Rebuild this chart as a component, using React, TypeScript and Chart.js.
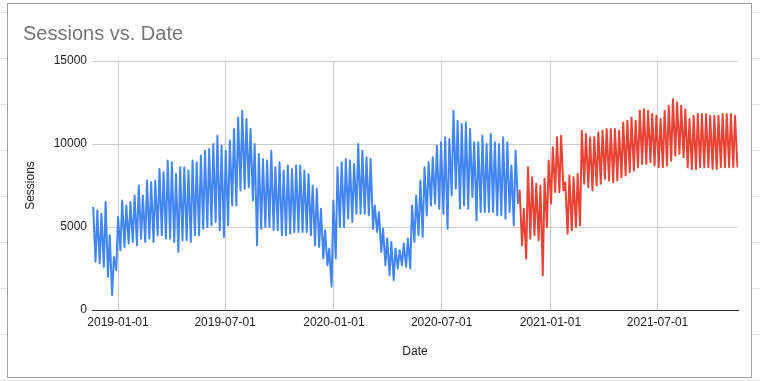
import React, { useEffect, useRef } from "react";
import { Chart, registerables } from "chart.js";

Chart.register(...registerables);

// ---------- data ----------
const TITLE = "Sessions vs. Date";
const X_TITLE = "Date";
const Y_TITLE = "Sessions";

// Week 0 starts on this date; each week is stored as its weekday high and its weekend low.
const FIRST_WEEK = "2018-11-19";
const AXIS_START = "2018-11-18";
const AXIS_END = "2021-11-14";

const X_TICK_DATES = ["2019-01-01", "2019-07-01", "2020-01-01", "2020-07-01", "2021-01-01", "2021-07-01"];
const Y_TICKS = [0, 5000, 10000, 15000];

// Blue series: weeks 0..102
const BLUE_HIGHS = [
  6200, 6000, 5800, 6500, 4500, 3200, 5600, 6600, 6300, 6500,
  6900, 7500, 6900, 7800, 7700, 7800, 8500, 8300, 9000, 8900,
  8200, 8600, 8600, 8400, 9000, 8900, 9300, 9600, 9700, 10000,
  10500, 9900, 9600, 10200, 10900, 11600, 12000, 11500, 10900, 10000,
  9400, 9100, 9000, 9600, 8600, 8900, 8400, 8700, 8500, 8700,
  8700, 8400, 8200, 7500, 7300, 6100, 4800, 3700, 6600, 8600,
  8900, 9100, 9000, 8800, 10000, 9600, 9200, 9100, 6300, 5900,
  4900, 4300, 4100, 3700, 3600, 4000, 4300, 6300, 6900, 7800,
  8600, 8900, 9200, 9900, 10100, 10400, 10300, 12000, 11400, 11200,
  11300, 10900, 10100, 10100, 10500, 10000, 10600, 10100, 10000, 10400,
  10100, 8700, 9600,
];
const BLUE_LOWS = [
  2900, 2800, 2600, 2000, 900, 2400, 3600, 3800, 4000, 4100,
  3900, 4300, 4100, 4300, 4100, 4500, 4500, 4300, 4300, 4100,
  3500, 4200, 4200, 4100, 4500, 4500, 4900, 5000, 5100, 5300,
  4800, 4400, 5100, 6300, 6300, 7200, 7300, 7400, 6600, 3900,
  4900, 5000, 5000, 4800, 4800, 4500, 4500, 4600, 4700, 4700,
  4700, 4700, 4500, 3900, 3800, 3100, 2700, 1400, 3100, 5000,
  5000, 5500, 5300, 5800, 5800, 5800, 5700, 4900, 4700, 3500,
  2700, 2100, 1800, 2500, 2700, 2600, 2500, 4100, 4500, 4400,
  5700, 6300, 6400, 6100, 5800, 4900, 6900, 7300, 6100, 6300,
  6100, 6800, 5400, 5900, 5900, 5900, 5900, 5700, 5700, 5500,
  5900, 5100, 6400,
];

// Red series: weeks 103..155
const RED_FIRST_WEEK_INDEX = 103;
const RED_HIGHS = [
  7200, 6100, 8600, 8000, 7600, 7500, 7900, 9000, 9800, 10400,
  10500, 7700, 8100, 8000, 8200, 10800, 10600, 10400, 10400, 10700,
  10800, 10900, 10900, 10900, 10800, 11300, 11400, 11600, 11400, 12000,
  12100, 12000, 11800, 11700, 11500, 12000, 12300, 12700, 12500, 12300,
  12100, 11500, 11700, 11800, 11800, 11800, 11700, 11700, 11700, 11800,
  11800, 11800, 11700,
];
const RED_LOWS = [
  3900, 3100, 4300, 4500, 4200, 2100, 5000, 6400, 7100, 7100,
  7200, 4600, 4800, 5000, 5100, 7600, 7400, 7200, 7500, 7600,
  7900, 7800, 7700, 7800, 8000, 8100, 8300, 8400, 8600, 8800,
  8800, 8900, 8700, 8600, 8600, 8700, 9000, 9300, 9400, 9200,
  8600, 8500, 8500, 8600, 8600, 8600, 8500, 8500, 8600, 8600,
  8600, 8600, 8600,
];

// ---------- helpers ----------
const DAY_MS = 86400000;
const toDay = (s: string) => Date.parse(s + "T00:00:00Z") / DAY_MS;
const fmtDay = (d: number) => new Date(Math.round(d) * DAY_MS).toISOString().slice(0, 10);

function weekPoints(highs: number[], lows: number[], firstWeekIndex: number) {
  const base = toDay(FIRST_WEEK);
  const pts: { x: number; y: number }[] = [];
  highs.forEach((h, i) => {
    const w = base + 7 * (firstWeekIndex + i);
    pts.push({ x: w + 1, y: h });
    pts.push({ x: w + 5, y: lows[i] });
  });
  return pts;
}

const FONT = "'Liberation Sans', Arial, sans-serif";

export default function App() {
  const ref = useRef<HTMLCanvasElement | null>(null);

  useEffect(() => {
    if (!ref.current) return;
    const blue = weekPoints(BLUE_HIGHS, BLUE_LOWS, 0);
    const red = [blue[blue.length - 1], ...weekPoints(RED_HIGHS, RED_LOWS, RED_FIRST_WEEK_INDEX)];

    const chart = new Chart(ref.current, {
      type: "line",
      data: {
        datasets: [
          {
            data: blue,
            borderColor: "#4285f4",
            backgroundColor: "#4285f4",
            borderWidth: 2,
            pointRadius: 0,
            tension: 0,
            borderJoinStyle: "round",
            fill: false,
          },
          {
            data: red,
            borderColor: "#ea4335",
            backgroundColor: "#ea4335",
            borderWidth: 2,
            pointRadius: 0,
            tension: 0,
            borderJoinStyle: "round",
            fill: false,
          },
        ],
      },
      options: {
        animation: false,
        responsive: false,
        maintainAspectRatio: false,
        parsing: false,
        layout: { padding: { left: 15, right: 13, top: 0, bottom: 10 } },
        plugins: {
          legend: { display: false },
          tooltip: { enabled: false },
          title: {
            display: true,
            text: TITLE,
            align: "start",
            color: "#757575",
            font: { family: FONT, size: 20, weight: "normal" },
            padding: { top: 18, bottom: 15 },
          },
        },
        scales: {
          x: {
            type: "linear",
            min: toDay(AXIS_START),
            max: toDay(AXIS_END),
            afterBuildTicks: (s: any) => {
              s.ticks = X_TICK_DATES.map((d) => ({ value: toDay(d) }));
            },
            afterFit: (s: any) => {
              s.height = 57;
            },
            ticks: {
              callback: (v: any) => fmtDay(Number(v)),
              color: "#222222",
              font: { family: FONT, size: 12 },
              padding: 5,
              maxRotation: 0,
              autoSkip: false,
            },
            grid: { color: "#cccccc", drawTicks: false },
            border: { color: "#333333", width: 1 },
            title: {
              display: true,
              text: X_TITLE,
              color: "#222222",
              font: { family: FONT, size: 12 },
              padding: { top: 0, bottom: 8 },
            },
          },
          y: {
            type: "linear",
            min: 0,
            max: 15000,
            afterBuildTicks: (s: any) => {
              s.ticks = Y_TICKS.map((v) => ({ value: v }));
            },
            afterFit: (s: any) => {
              s.width = 69;
            },
            ticks: {
              callback: (v: any) => String(v),
              color: "#222222",
              font: { family: FONT, size: 12 },
              padding: 5,
            },
            grid: {
              color: (c: any) => (c.tick && c.tick.value === 0 ? "#333333" : "#cccccc"),
              drawTicks: false,
            },
            border: { display: false },
            title: {
              display: true,
              text: Y_TITLE,
              color: "#222222",
              font: { family: FONT, size: 12 },
              padding: 0,
            },
          },
        },
      },
    } as any);
    return () => chart.destroy();
  }, []);

  return (
    <div
      style={{
        position: "fixed",
        left: 0,
        top: 0,
        width: 760,
        height: 381,
        background: "#ffffff",
        backgroundImage:
          "repeating-linear-gradient(to bottom, transparent 0px, transparent 12px, #e2e2e2 12px, #e2e2e2 13px, transparent 13px, transparent 46px)",
        overflow: "hidden",
      }}
    >
      <div
        style={{
          position: "absolute",
          left: 7,
          top: 3,
          width: 745,
          height: 375,
          boxSizing: "border-box",
          border: "1px solid #a0a0a0",
          background: "#ffffff",
        }}
      >
        <canvas ref={ref} width={743} height={373} style={{ display: "block", width: 743, height: 373 }} />
      </div>
    </div>
  );
}
